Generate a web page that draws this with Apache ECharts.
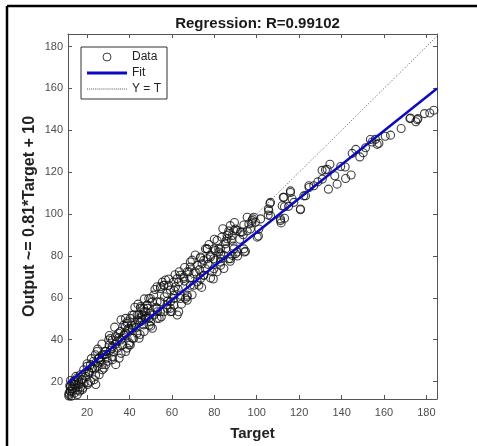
<!DOCTYPE html>
<html>
<head>
<meta charset="utf-8">
<script src="https://cdn.jsdelivr.net/npm/echarts@6/dist/echarts.min.js"></script>
<style>html,body{margin:0;padding:0;background:#fff}#c{width:477px;height:446px}</style>
</head>
<body>
<div id="c"></div>
<script>
// Data points (Target, Output)
const dataTarget = [
185.1,183.5,181.6,179.1,176.0,175.0,172.2,168.1,163.1,160.6,156.8,156.0,154.4,151.3,150.2,148.6,146.7,145.0,144.5,141.9,
141.7,137.9,136.8,134.5,133.8,132.4,130.8,128.8,124.7,123.0,120.6,117.5,115.9,115.0,113.1,112.5,111.5,111.2,113.1,106.2,
105.5,105.4,101.8,100.8,99.4,98.1,97.7,93.9,94.2,93.6,92.3,90.0,88.9,86.8,86.0,85.4,84.5,82.1,81.3,79.7,
79.0,78.2,76.6,74.2,72.7,73.5,76.6,175.7,172.5,157.6,153.6,139.6,133.2,130.9,126.9,122.2,
124.6,120.6,115.9,116.7,112.8,112.0,111.2,106.5,105.7,106.5,101.0,98.6,97.8,96.3,97.0,93.1,90.8,89.2,88.4,86.8,
86.0,85.2,82.9,82.1,79.8,78.2,75.8,89.2,90.0,93.9,100.2,86.8,82.9,
80.5,78.2,76.6,75.0,73.5,71.9,75.8,68.7,70.3,67.2,65.6,68.7,63.2,61.7,59.3,57.7,56.2,54.6,51.4,53.0,
49.9,48.3,46.7,45.2,43.6,42.0,40.4,38.9,37.3,59.3,57.7,54.6,51.4,49.1,60.9,64.0,67.2,71.9,75.0,59.3,
45.2,82.9,79.8,62.5,60.9,66.4,
50.8,48.5,53.2,46.1,54.0,43.7,49.3,41.4,46.9,38.2,44.5,35.9,31.9,39.8,30.4,34.3,28.8,38.2,27.2,31.9,
25.7,29.6,24.1,35.1,22.5,27.2,21.0,25.7,19.4,23.3,17.8,16.2,20.2,14.7,13.1,11.5,11.4,17.8,15.4,12.3,
21.7,24.1,28.8,33.5,36.7,41.4,47.7,50.8,31.9,24.9,18.6,13.9,14.7,
68.7,68.0,65.6,64.0,62.5,60.9,58.5,56.2,54.6,53.0,67.2,67.2,63.2,59.3,54.6,53.0,49.1,48.3,46.7,45.2,
44.4,41.2,38.1,40.4,38.9,42.0,43.6,46.7,49.9,53.0,56.2,57.7,60.9,64.0,70.3,73.5,75.0,81.3,82.9,87.6,
90.8,94.7,88.4,
12.1,11.4,12.1,13.7,14.5,15.3,16.1,16.9,17.6,18.4,19.2,20.0,20.8,21.6,22.4,23.1,23.9,24.7,25.5,26.3,
27.1,27.9,28.6,29.4,30.2,31.0,31.8,32.6,33.4,34.2,34.9,35.7,36.5,37.3,38.1,38.9,39.7,41.2,42.8,44.4,
45.9,47.5,48.6,
12.0,12.5,13.0,14.0,11.8,15.5,16.5,17.0,13.5,12.2,
52.0,55.5,57.0,58.5,61.5,63.5,66.0,69.5,71.0,77.5,80.0,83.5,84.0,87.5,89.5,95.5,44.0,47.0,42.5,36.0,
33.0,30.5,27.0,25.0,22.0,20.0,
60.0,64.5,69.5,74.0,79.5,84.5,87.5,91.0,55.0,50.0,45.0,40.0,36.0,32.0,28.0,24.0,20.5,18.0,
35.0,37.5,39.0,41.0,43.0,45.5,47.5,49.5,52.5,56.5,58.0,61.0,63.0,66.0,68.5,71.0,73.0,77.0,80.5,83.0,
85.5,88.0,92.0,95.5,26.5,29.0,31.0,33.5,21.0,23.5,16.0,14.0
];
const dataOutput = [
150.2,149.6,148.3,148.0,145.6,144.1,145.6,140.9,137.7,137.2,133.3,135.7,134.4,131.7,129.3,127.3,130.9,129.0,118.7,117.0,
122.5,114.3,118.3,123.8,111.9,121.1,120.9,115.4,112.7,108.8,102.1,105.6,110.3,103.7,103.5,108.0,95.8,97.7,98.0,105.1,
102.4,99.6,97.7,89.5,96.1,97.7,95.8,94.8,81.9,90.1,91.4,92.9,84.7,92.0,89.8,83.4,80.3,83.4,87.4,78.7,
72.4,69.5,83.4,76.3,66.0,79.0,78.7,145.1,145.9,133.8,135.6,122.7,121.4,116.7,113.5,108.7,
113.5,102.4,111.1,107.2,108.0,104.0,96.9,105.6,101.6,99.2,92.9,98.5,96.9,95.3,92.9,91.4,92.1,92.1,89.8,90.6,
88.2,85.8,83.4,81.9,83.4,79.5,83.4,83.4,81.1,83.4,89.0,78.7,78.7,
82.6,80.3,83.4,77.9,79.5,75.5,73.9,77.1,71.6,72.4,69.2,66.0,67.6,65.3,63.7,62.1,66.0,64.5,61.3,58.1,
59.7,56.5,55.0,55.8,51.8,51.8,50.2,48.6,47.0,58.1,55.0,53.4,51.8,50.2,61.3,59.7,61.3,67.6,70.8,53.4,
48.6,77.1,73.9,51.8,56.5,59.7,
58.1,55.0,53.4,51.8,50.2,49.4,47.0,45.5,43.9,43.1,40.7,39.9,39.9,37.5,37.5,36.0,34.4,34.4,32.8,32.0,
31.2,29.7,28.9,31.2,26.5,25.7,24.1,23.3,22.5,20.9,20.9,18.6,18.6,17.0,15.4,14.6,13.1,16.2,13.8,17.8,
20.2,18.6,28.1,28.1,37.5,40.7,50.2,45.5,36.0,27.3,19.4,20.2,22.5,
74.7,72.4,70.0,70.8,69.2,67.6,66.0,66.0,65.3,65.3,60.5,58.9,53.4,55.0,58.1,55.0,59.7,56.6,53.4,55.0,
51.8,51.8,50.2,37.6,36.0,40.7,43.1,47.1,48.6,50.2,53.4,56.6,59.7,61.3,66.0,69.2,70.8,72.4,75.5,78.7,
81.9,82.2,80.3,
15.4,13.8,17.8,20.2,18.6,21.7,19.4,23.3,21.0,25.7,24.1,27.3,24.9,28.1,26.5,29.7,32.8,34.4,31.2,29.7,
28.1,32.8,34.4,31.2,39.9,40.7,36.8,34.4,41.5,39.1,43.1,43.9,40.7,42.3,46.3,47.8,45.5,44.7,47.1,48.6,
49.4,51.0,51.0,
15.5,13.0,16.5,14.5,18.0,16.0,15.5,17.5,19.0,20.5,
64.0,67.5,68.5,69.0,71.0,72.5,74.5,78.0,80.5,85.5,88.0,89.0,93.0,94.5,96.0,98.5,57.0,59.5,55.5,49.5,
46.0,42.0,38.0,35.5,31.0,28.5,
53.5,57.0,61.5,65.0,69.0,74.0,77.5,80.0,51.0,46.5,42.5,38.5,33.5,30.5,26.5,23.0,19.5,17.0,
41.0,42.0,44.5,47.0,46.0,50.5,53.5,52.5,55.5,60.5,58.5,63.5,64.0,68.0,69.5,72.5,73.5,76.0,78.0,81.0,
87.0,87.5,88.0,92.0,30.5,33.0,35.0,38.0,24.5,26.0,20.5,18.5
];
// Fit line end points (Output ~= 0.81*Target + 10) and Y = T line end points
const fitX = [11, 185];
const fitY = [19.5, 160];
const refX = [11.7, 185];
const refY = [11.7, 185];
// Axis ranges and tick step
const xRange = [11, 185];
const yRange = [11.7, 186];
const tickStep = 20;

const font = "'Liberation Sans', Arial, sans-serif";
const axisColor = '#555';
const fmt = v => (Math.abs(v % tickStep) < 1e-6 || Math.abs(v % tickStep - tickStep) < 1e-6) ? String(Math.round(v)) : '';

const scatterData = dataTarget.map((t, i) => [t, dataOutput[i]]);

// legend icons: a solid bar for the fit, a row of dots for Y = T
const fitIcon = 'path://M0,0h40v3h-40z';
let dotPath = 'path://';
for (let i = 0; i < 40; i += 2) dotPath += 'M' + i + ',0h1v1h-1z';

const baseAxis = {
  type: 'value',
  splitNumber: 9,
  minInterval: tickStep,
  maxInterval: tickStep,
  splitLine: { show: false },
  axisLine: { show: true, onZero: false, lineStyle: { color: axisColor, width: 1 } },
  axisTick: { show: true, inside: true, length: 4, lineStyle: { color: axisColor, width: 1 } },
};

const chart = echarts.init(document.getElementById('c'));
chart.setOption({
  animation: false,
  backgroundColor: '#fff',
  textStyle: { fontFamily: font },
  title: {
    text: 'Regression: R=0.99102',
    left: 252.5,
    textAlign: 'center',
    top: 11,
    textStyle: { fontFamily: font, fontWeight: 'bold', fontSize: 15, color: '#1a1a1a' }
  },
  grid: { left: 68, right: 40, top: 34, bottom: 45, containLabel: false },
  legend: {
    orient: 'vertical',
    left: 81,
    top: 47,
    itemWidth: 40,
    itemHeight: 8,
    itemGap: 2,
    padding: [3, 6, 3, 6],
    borderColor: '#333',
    borderWidth: 1,
    backgroundColor: '#fff',
    selectedMode: false,
    textStyle: { fontFamily: font, fontSize: 12, color: '#222', lineHeight: 14 },
    data: [
      { name: 'Data', icon: 'circle', itemStyle: { color: 'rgba(0,0,0,0)', borderColor: '#111', borderWidth: 1 } },
      { name: 'Fit', icon: fitIcon, itemStyle: { color: '#0a0ac0', borderWidth: 0 } },
      { name: 'Y = T', icon: dotPath, itemStyle: { color: '#555', borderWidth: 0 } }
    ]
  },
  xAxis: [
    Object.assign({}, baseAxis, {
      position: 'bottom', min: xRange[0], max: xRange[1],
      axisLabel: { color: '#4d4d4d', fontSize: 11, margin: 8, formatter: fmt },
      name: 'Target', nameLocation: 'middle', nameGap: 27,
      nameTextStyle: { fontFamily: font, fontWeight: 'bold', fontSize: 15, color: '#222' }
    }),
    Object.assign({}, baseAxis, {
      position: 'top', min: xRange[0], max: xRange[1],
      axisLabel: { show: false }
    })
  ],
  yAxis: [
    Object.assign({}, baseAxis, {
      position: 'left', min: yRange[0], max: yRange[1],
      axisLabel: { color: '#4d4d4d', fontSize: 11, margin: 5, formatter: fmt },
      name: 'Output ~= 0.81*Target + 10', nameLocation: 'middle', nameGap: 30,
      nameMoveOverlap: false,
      nameTextStyle: { fontFamily: font, fontWeight: 'bold', fontSize: 16, color: '#222' }
    }),
    Object.assign({}, baseAxis, {
      position: 'right', min: yRange[0], max: yRange[1],
      axisLabel: { show: false }
    })
  ],
  series: [
    {
      name: 'Data', type: 'scatter', xAxisIndex: 0, yAxisIndex: 0, z: 2,
      symbol: 'circle', symbolSize: 8,
      itemStyle: { color: 'rgba(0,0,0,0)', borderColor: '#111', borderWidth: 1.1 },
      data: scatterData
    },
    {
      name: 'Fit', type: 'line', xAxisIndex: 0, yAxisIndex: 0, z: 4,
      symbol: 'none', silent: true,
      lineStyle: { color: '#0a0ac0', width: 2.5 },
      itemStyle: { color: '#0a0ac0' },
      data: fitX.map((x, i) => [x, fitY[i]])
    },
    {
      name: 'Y = T', type: 'line', xAxisIndex: 0, yAxisIndex: 0, z: 3,
      symbol: 'none', silent: true,
      lineStyle: { color: '#555', width: 1, type: [1, 2] },
      itemStyle: { color: '#555' },
      data: refX.map((x, i) => [x, refY[i]])
    }
  ],
  graphic: [
    { type: 'line', shape: { x1: 7, y1: 6, x2: 477, y2: 6 }, style: { stroke: '#000', lineWidth: 2.5 }, z: 10 },
    { type: 'line', shape: { x1: 7, y1: 6, x2: 7, y2: 446 }, style: { stroke: '#000', lineWidth: 2.5 }, z: 10 }
  ]
});
</script>
</body>
</html>
